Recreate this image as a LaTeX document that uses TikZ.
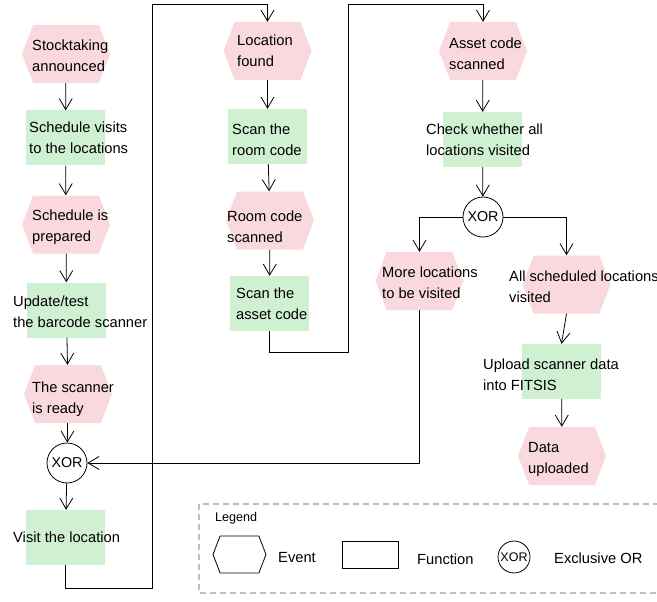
\documentclass[tikz,border=0pt]{standalone}
\usepackage{fontspec}
\setmainfont{Liberation Sans}
\usetikzlibrary{arrows.meta,shapes.symbols}
\definecolor{EventPink}{HTML}{F9D9DE}
\definecolor{FunctionGreen}{HTML}{D0F0D2}
\definecolor{LegendGray}{HTML}{BDBDBD}
\tikzset{
  eventbox/.style={signal,signal to=east and west,signal pointer angle=138,
    fill=EventPink,minimum width=88pt,minimum height=58pt,inner sep=0pt},
  funcbox/.style={rectangle,fill=FunctionGreen,minimum width=79pt,
    minimum height=55pt,inner sep=0pt},
  xorgate/.style={circle,draw,line width=0.8pt,minimum size=40pt,inner sep=0pt,
    font=\fontsize{14.3}{17}\selectfont},
  lbl/.style={anchor=west,align=left,inner sep=0pt,yshift=-3pt,
    font=\fontsize{14.7}{21}\selectfont,
    execute at begin node=\strut,execute at end node=\strut},
  flow/.style={-{Straight Barb[length=11pt,width=13pt]},line width=0.8pt}
}

\begin{document}
\begin{tikzpicture}[x=1pt,y=-1pt]
  \useasboundingbox (0,0) rectangle (657,602);
  % first column
  \node[eventbox] (e1) at (66,54) {};
  \node[funcbox] (f1) at (65.5,138) {};
  \node[eventbox] (e2) at (66,224.5) {};
  \node[funcbox] (f2) at (66.5,310) {};
  \node[eventbox] (e3) at (68,394) {};
  \node[xorgate] (x1) at (67,463) {XOR};
  \node[funcbox] (f3) at (65.5,537.5) {};
  \node[lbl] (t1) at (32,55.5) {Stocktaking\\announced};
  \node[lbl] (t2) at (29,137.5) {Schedule visits\\to the locations};
  \node[lbl] (t3) at (32,225.5) {Schedule is\\prepared};
  \node[lbl] (t4) at (13,311.5) {Update/test\\the barcode scanner};
  \node[lbl] (t5) at (32,398) {The scanner\\is ready};
  \node[lbl] (t6) at (13,535) {Visit the location};
  % second column
  \node[eventbox] (e4) at (267.5,51) {};
  \node[funcbox] (f4) at (267.5,136.5) {};
  \node[eventbox] (e5) at (270,220.5) {};
  \node[funcbox] (f5) at (269.5,303.5) {};
  \node[lbl] (t7) at (237,50.5) {Location\\found};
  \node[lbl] (t8) at (232,139.5) {Scan the\\room code};
  \node[lbl] (t9) at (227,226.5) {Room code\\scanned};
  \node[lbl] (t10) at (236,303.5) {Scan the\\asset code};
  % third column
  \node[eventbox] (e6) at (483,51) {};
  \node[funcbox] (f6) at (482.5,139.5) {};
  \node[xorgate] (x2) at (483,217) {XOR};
  \node[eventbox] (e7) at (419.5,281) {};
  \node[eventbox] (e8) at (566.5,284.5) {};
  \node[funcbox] (f7) at (561.5,371.5) {};
  \node[eventbox] (e9) at (562,456) {};
  \node[lbl] (t11) at (449,53.5) {Asset code\\scanned};
  \node[lbl] (t12) at (426,139.5) {Check whether all\\locations visited};
  \node[lbl] (t13) at (382,282.5) {More locations\\to be visited};
  \node[lbl] (t14) at (509,287) {All scheduled locations\\visited};
  \node[lbl] (t15) at (483,374.5) {Upload scanner data\\into FITSIS};
  \node[lbl] (t16) at (528,458.5) {Data\\uploaded};
  % bends of the long connectors
  \coordinate (c1) at (152,588);
  \coordinate (c2) at (152,4);
  \coordinate (c3) at (348,352);
  \coordinate (c4) at (348,4);
  % connectors
  \draw[flow] (e1) -- (f1);
  \draw[flow] (f1) -- (e2);
  \draw[flow] (e2) -- (f2);
  \draw[flow] (f2) -- (e3);
  \draw[flow] (e3) -- (x1);
  \draw[flow] (x1) -- (f3);
  \draw[flow] (f3.south) |- (c1) -- (c2) -| (e4.north);
  \draw[flow] (e4) -- (f4);
  \draw[flow] (f4) -- (e5);
  \draw[flow] (e5) -- (f5);
  \draw[flow] (f5.south) |- (c3) -- (c4) -| (e6.north);
  \draw[flow] (e6) -- (f6);
  \draw[flow] (f6) -- (x2);
  \draw[flow] (x2.west) -| (e7.north);
  \draw[flow] (x2.east) -| (e8.north);
  \draw[flow] (e8.south) -- (f7.north);
  \draw[flow] (f7) -- (e9);
  \draw[flow] (e7.south) |- (x1.east);
  % legend
  \draw[LegendGray,dash pattern=on 6pt off 4pt,line width=1.5pt] (199,504) rectangle (660,593);
  \node[anchor=west,inner sep=0pt,font=\fontsize{12.6}{15}\selectfont] (lg) at (215,518) {Legend};
  \node[eventbox,fill=white,draw,line width=0.8pt,minimum width=53pt,minimum height=37pt] (lev) at (239.5,554.5) {};
  \node[lbl] (lt1) at (278,555) {Event};
  \node[funcbox,fill=white,draw,line width=0.8pt,minimum width=56pt,minimum height=27pt] (lfn) at (370,554.5) {};
  \node[lbl] (lt2) at (417,557) {Function};
  \node[xorgate,minimum size=32pt,font=\fontsize{12.5}{15}\selectfont] (lx) at (514,557) {XOR};
  \node[lbl] (lt3) at (554,556) {Exclusive OR};
\end{tikzpicture}
\end{document}
